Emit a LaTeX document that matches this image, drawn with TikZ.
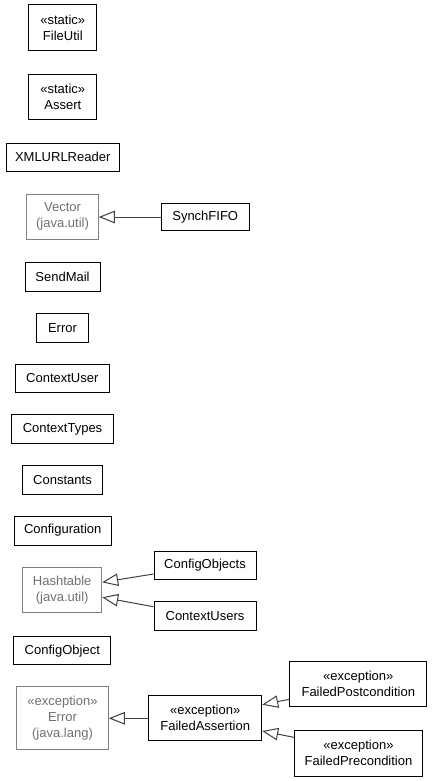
\documentclass[tikz,border=0pt]{standalone}
\usepackage{fontspec}
\setmainfont{Liberation Sans}
\usetikzlibrary{arrows.meta}
\definecolor{ext}{RGB}{128,128,128}
\definecolor{exttext}{RGB}{112,112,112}
\begin{document}
\begin{tikzpicture}[x=1pt,y=-1pt,
  cls/.style={draw=black,line width=1pt,fill=white,inner sep=0pt,align=center,font=\fontsize{13}{16}\selectfont},
  extcls/.style={cls,draw=ext,text=exttext},
  inh/.style={draw=black!75,line width=1pt,-{Triangle[open,length=16pt,width=12.5pt,fill=white]}}]
\useasboundingbox (0,0) rectangle (432,781);
\newcommand{\umlbox}[6]{\node[#1,minimum width=#4pt,minimum height=#5pt] (#2) at (#3) {#6};}
\umlbox{cls}{fileutil}{62.8,27.8}{67.7}{45.7}{«static»\\FileUtil}
\umlbox{cls}{assert}{62.8,96.7}{67.7}{45.3}{«static»\\Assert}
\umlbox{cls}{xml}{62.7,157.3}{112.7}{28}{XMLURLReader}
\umlbox{extcls}{vector}{62.5,216.8}{71.6}{45}{Vector\\(java.util)}
\umlbox{cls}{synch}{205.2,217}{87.7}{27.4}{SynchFIFO}
\umlbox{cls}{sendmail}{62.5,277.2}{75}{29}{SendMail}
\umlbox{cls}{error}{62.5,327.7}{51.6}{28.7}{Error}
\umlbox{cls}{cuser}{62.3,378.5}{94}{28.4}{ContextUser}
\umlbox{cls}{ctypes}{62.5,429}{101.6}{28.6}{ContextTypes}
\umlbox{cls}{consts}{62.5,479.7}{80.4}{28.7}{Constants}
\umlbox{cls}{config}{62.7,530.5}{96.7}{29}{Configuration}
\umlbox{extcls}{hash}{62.2,590.2}{79}{45}{Hashtable\\(java.util)}
\umlbox{cls}{cobjs}{205,565}{102}{28}{ConfigObjects}
\umlbox{cls}{cusers}{205,615.7}{102}{28.7}{ContextUsers}
\umlbox{cls}{cobj}{62.3,650.7}{96.7}{28}{ConfigObject}
\umlbox{extcls}{errjl}{62.5,718}{91.6}{62.6}{«exception»\\Error\\(java.lang)}
\umlbox{cls}{fassert}{205.2,718.3}{113}{45.3}{«exception»\\FailedAssertion}
\umlbox{cls}{fpost}{358.3,683.7}{136.7}{45.3}{«exception»\\FailedPostcondition}
\umlbox{cls}{fpre}{358.5,753}{128.4}{46}{«exception»\\FailedPrecondition}
\draw[inh] (synch.west) -- (vector.east |- synch.west);
\draw[inh] ([yshift=-9pt]cobjs.west) -- ([yshift=7.9pt]hash.east);
\draw[inh] ([yshift=9pt]cusers.west) -- ([yshift=-7.1pt]hash.east);
\draw[inh] (fassert.west) -- (errjl.east |- fassert.west);
\draw[inh] ([yshift=-15.6pt]fpost.west) -- ([yshift=13.6pt]fassert.east);
\draw[inh] ([yshift=15.7pt]fpre.west) -- ([yshift=-12.7pt]fassert.east);
\end{tikzpicture}
\end{document}
